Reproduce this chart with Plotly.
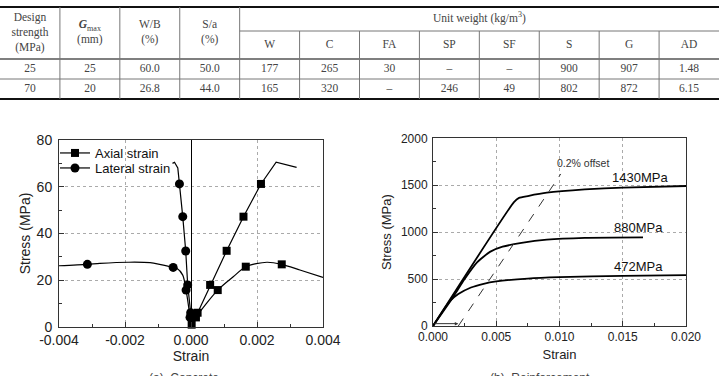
import plotly.graph_objects as go

W, H = 719, 376

# ---------------- table data ----------------
HDR_LEFT = ["Design<br>strength<br>(MPa)", "<b><i>G</i></b><sub>max</sub><br>(mm)", "W/B<br>(%)", "S/a<br>(%)"]
HDR_UNIT = "Unit weight (kg/m<sup>3</sup>)"
HDR_SUB = ["W", "C", "FA", "SP", "SF", "S", "G", "AD"]
ROW_25 = ["25", "25", "60.0", "50.0", "177", "265", "30", "–", "–", "900", "907", "1.48"]
ROW_70 = ["70", "20", "26.8", "44.0", "165", "320", "–", "246", "49", "802", "872", "6.15"]

# ---------------- (a) concrete data ----------------
AX70_X = [0, 0.0002, 0.00058, 0.00108, 0.00159, 0.00212, 0.00258, 0.0032]
AX70_Y = [0, 6.1, 18.0, 32.6, 47.2, 61.2, 70.5, 68.3]
AX70_MX = [0.0002, 0.00058, 0.00108, 0.00159, 0.00212]
AX70_MY = [6.1, 18.0, 32.6, 47.2, 61.2]

AX25_X = [0, 0.00015, 0.00081, 0.00128, 0.00166, 0.0023, 0.00275, 0.0033, 0.004]
AX25_Y = [0, 4.1, 15.8, 21.5, 25.8, 27.7, 26.8, 24.4, 21.2]
AX25_MX = [0.00002, 0.00015, 0.00081, 0.00166, 0.00275]
AX25_MY = [1.0, 4.1, 15.8, 25.8, 26.8]

LAT70_X = [0, -0.00001, -0.0001, -0.00016, -0.00025, -0.00035, -0.0004, -0.0005, -0.00056]
LAT70_Y = [0, 6.1, 18.0, 32.5, 47.2, 61.2, 68.0, 70.5, 70.0]
LAT70_MX = [-0.00001, -0.0001, -0.00016, -0.00025, -0.00035]
LAT70_MY = [6.1, 18.0, 32.5, 47.2, 61.2]

LAT25_X = [0, -0.00003, -0.00015, -0.00025, -0.00043, -0.00054, -0.00124, -0.0019, -0.00276, -0.00314, -0.004]
LAT25_Y = [0, 4.1, 15.8, 22.2, 25.1, 25.5, 27.5, 27.7, 27.2, 26.8, 26.2]
LAT25_MX = [-0.00003, -0.00015, -0.00054, -0.00314]
LAT25_MY = [4.1, 15.8, 25.5, 26.8]

A_XTICKS = [-0.004, -0.002, 0.0, 0.002, 0.004]
A_XTEXT = ["-0.004", "-0.002", "0.000", "0.002", "0.004"]
A_YTICKS = [0, 20, 40, 60, 80]

# ---------------- (b) reinforcement data ----------------
S1430_X = [0, 0.0064, 0.0068, 0.0075, 0.009, 0.012, 0.015, 0.02]
S1430_Y = [0, 1320, 1365, 1385, 1420, 1455, 1475, 1492]
S880_X = [0, 0.0015, 0.0025, 0.0035, 0.0045, 0.0055, 0.007, 0.009, 0.012, 0.0166]
S880_Y = [0, 290, 500, 680, 790, 845, 885, 920, 940, 945]
S472_X = [0, 0.0013, 0.002, 0.003, 0.004, 0.005, 0.0075, 0.01, 0.015, 0.02]
S472_Y = [0, 260, 340, 410, 450, 475, 505, 520, 535, 543]
OFFSET_X = [0.002, 0.0101]
OFFSET_Y = [0, 1620]
B_XTICKS = [0, 0.005, 0.010, 0.015, 0.020]
B_XTEXT = ["0.000", "0.005", "0.010", "0.015", "0.020"]
B_YTICKS = [0, 500, 1000, 1500, 2000]

LABELS_B = ["1430MPa", "880MPa", "472MPa"]
LABEL_B_X = [0.01636, 0.01623, 0.01623]
LABEL_B_Y = [1584, 1052, 632]

SANS = "Liberation Sans, Arial, sans-serif"
SERIF = "Liberation Serif, Times New Roman, serif"

fig = go.Figure()

# ---------------- table ----------------
ROW_LINES = [7, 31, 59, 79, 99]   # pixel rows of the table grid
tx, ty, tt = [], [], []
for i, h in enumerate(HDR_LEFT):
    tx.append(i + 0.5); ty.append(33); tt.append(h)
tx.append(8); ty.append(19); tt.append(HDR_UNIT)
for i, h in enumerate(HDR_SUB):
    tx.append(4 + i + 0.5); ty.append(45); tt.append(h)
for i, v in enumerate(ROW_25):
    tx.append(i + 0.5); ty.append(69); tt.append(v)
for i, v in enumerate(ROW_70):
    tx.append(i + 0.5); ty.append(89); tt.append(v)
fig.add_trace(go.Scatter(x=tx, y=ty, text=tt, mode="text", textposition="middle center",
                         textfont=dict(family=SERIF, size=11.5, color="#444"),
                         xaxis="x3", yaxis="y3", showlegend=False, hoverinfo="skip", cliponaxis=False))

shapes = []
def tline(x0, y0, x1, y1, w=1, c="#666"):
    shapes.append(dict(type="line", xref="x3", yref="y3", x0=x0, y0=y0, x1=x1, y1=y1,
                       line=dict(color=c, width=w)))
tline(0, ROW_LINES[0], 12, ROW_LINES[0], 2.2, "#111")
tline(4, ROW_LINES[1], 12, ROW_LINES[1], 1, "#777")
tline(0, ROW_LINES[2], 12, ROW_LINES[2], 1.3, "#555")
tline(0, ROW_LINES[3], 12, ROW_LINES[3], 1, "#777")
tline(0, ROW_LINES[4], 12, ROW_LINES[4], 2.2, "#111")
for c in range(1, 5):
    tline(c, ROW_LINES[0], c, ROW_LINES[4], 1, "#777")
for c in range(5, 12):
    tline(c, ROW_LINES[1], c, ROW_LINES[4], 1, "#777")

# ---------------- (a) concrete ----------------
for xs, ys in [(AX70_X, AX70_Y), (LAT70_X, LAT70_Y)]:
    fig.add_trace(go.Scatter(x=xs, y=ys, mode="lines", line=dict(color="black", width=1.2),
                             showlegend=False, hoverinfo="skip", cliponaxis=False))
for xs, ys in [(AX25_X, AX25_Y), (LAT25_X, LAT25_Y)]:
    fig.add_trace(go.Scatter(x=xs, y=ys, mode="lines", line=dict(color="black", width=1.2, shape="spline", smoothing=0.8),
                             showlegend=False, hoverinfo="skip", cliponaxis=False))
for xs, ys in [(AX70_MX, AX70_MY), (AX25_MX, AX25_MY)]:
    fig.add_trace(go.Scatter(x=xs, y=ys, mode="markers", marker=dict(symbol="square", size=8, color="black"),
                             showlegend=False, hoverinfo="skip", cliponaxis=False))
for xs, ys in [(LAT70_MX, LAT70_MY), (LAT25_MX, LAT25_MY)]:
    fig.add_trace(go.Scatter(x=xs, y=ys, mode="markers", marker=dict(symbol="circle", size=9, color="black"),
                             showlegend=False, hoverinfo="skip", cliponaxis=False))
fig.add_trace(go.Scatter(x=[None], y=[None], mode="lines+markers", name="Axial strain", legend="legend",
                         line=dict(color="black", width=1.2), marker=dict(symbol="square", size=8, color="black")))
fig.add_trace(go.Scatter(x=[None], y=[None], mode="lines+markers", name="Lateral strain", legend="legend2",
                         line=dict(color="black", width=1.2), marker=dict(symbol="circle", size=9, color="black")))

# ---------------- (b) reinforcement ----------------
for xs, ys in [(S1430_X, S1430_Y), (S880_X, S880_Y), (S472_X, S472_Y)]:
    fig.add_trace(go.Scatter(x=xs, y=ys, mode="lines", line=dict(color="black", width=1.8, shape="spline", smoothing=0.5),
                             xaxis="x2", yaxis="y2", showlegend=False, hoverinfo="skip"))
fig.add_trace(go.Scatter(x=OFFSET_X, y=OFFSET_Y, mode="lines", line=dict(color="#333", width=1, dash="dash"),
                         xaxis="x2", yaxis="y2", showlegend=False, hoverinfo="skip"))

ann = []
for t, x, y in zip(LABELS_B, LABEL_B_X, LABEL_B_Y):
    ann.append(dict(text=t, x=x, y=y, xref="x2", yref="y2", showarrow=False,
                    font=dict(family=SANS, size=13, color="#111")))
ann.append(dict(text="0.2% offset", x=0.01187, y=1740, xref="x2", yref="y2", showarrow=False,
                font=dict(family=SANS, size=10.5, color="#333")))
ann.append(dict(text="(0.2%)", x=0.0027, y=-45, xref="x2", yref="y2", showarrow=False,
                font=dict(family=SANS, size=8, color="#555")))
ann.append(dict(x=0.002, y=25, ax=0, ay=25, xref="x2", yref="y2", axref="x2", ayref="y2",
                showarrow=True, arrowhead=2, arrowsize=0.7, arrowwidth=1, arrowcolor="#333", text=""))
ann.append(dict(text="(a)  Concrete", x=184 / W, y=1 - 369 / H, xref="paper", yref="paper",
                xanchor="center", yanchor="top", showarrow=False,
                font=dict(family=SANS, size=12, color="#444")))
ann.append(dict(text="(b)  Reinforcement", x=540 / W, y=1 - 369 / H, xref="paper", yref="paper",
                xanchor="center", yanchor="top", showarrow=False,
                font=dict(family=SANS, size=12, color="#444")))

axis_common = dict(showline=True, linecolor="#333", linewidth=1, mirror=True,
                   ticks="inside", ticklen=5, tickcolor="#333",
                   showgrid=True, gridcolor="#aaa", griddash="dot", gridwidth=1,
                   automargin=False)

leg_common = dict(xanchor="left", yanchor="middle", bgcolor="rgba(0,0,0,0)",
                  font=dict(family=SANS, size=13, color="#111"), itemwidth=30,
                  borderwidth=0)

fig.update_layout(
    width=W, height=H, margin=dict(l=0, r=0, t=0, b=0, pad=0, autoexpand=False),
    paper_bgcolor="white", plot_bgcolor="white",
    shapes=shapes, annotations=ann,
    showlegend=True,
    legend=dict(x=55 / W, y=1 - 153 / H, **leg_common),
    legend2=dict(x=55 / W, y=1 - 168 / H, **leg_common),
    xaxis=dict(domain=[59 / W, 323 / W], range=[-0.004, 0.004], tickvals=A_XTICKS, ticktext=A_XTEXT,
               tickfont=dict(family=SANS, size=14, color="#222"),
               title=dict(text="Strain", font=dict(family=SANS, size=14, color="#222"), standoff=4),
               zeroline=True, zerolinecolor="black", zerolinewidth=1,
               minor=dict(ticks="inside", ticklen=3, dtick=0.001, tickcolor="#333", showgrid=False),
               **axis_common),
    yaxis=dict(domain=[1 - 327 / H, 1 - 140 / H], range=[0, 80], tickvals=A_YTICKS, zeroline=False,
               tickfont=dict(family=SANS, size=14, color="#222"), ticklabelstandoff=3,
               title=dict(text="Stress (MPa)", font=dict(family=SANS, size=14, color="#222"), standoff=2),
               minor=dict(ticks="inside", ticklen=3, dtick=10, tickcolor="#333", showgrid=False),
               **axis_common),
    xaxis2=dict(domain=[433 / W, 686 / W], range=[0, 0.02], tickvals=B_XTICKS, ticktext=B_XTEXT,
                anchor="y2", zeroline=False,
                tickfont=dict(family=SANS, size=12, color="#222"),
                title=dict(text="Strain", font=dict(family=SANS, size=13, color="#222"), standoff=6),
                minor=dict(ticks="inside", ticklen=3, dtick=0.0025, tickcolor="#333", showgrid=False),
                **axis_common),
    yaxis2=dict(domain=[1 - 326 / H, 1 - 138.3 / H], range=[0, 2000], tickvals=B_YTICKS,
                anchor="x2", zeroline=False,
                tickfont=dict(family=SANS, size=12, color="#222"), ticklabelstandoff=2,
                title=dict(text="Stress (MPa)", font=dict(family=SANS, size=13, color="#222"), standoff=6),
                minor=dict(ticks="inside", ticklen=3, dtick=250, tickcolor="#333", showgrid=False),
                **axis_common),
    xaxis3=dict(domain=[0, 1], range=[0, 12], visible=False, anchor="y3", fixedrange=True),
    yaxis3=dict(domain=[1 - 105 / H, 1], range=[105, 0], visible=False, anchor="x3", fixedrange=True),
)

fig.write_html("out.html")
